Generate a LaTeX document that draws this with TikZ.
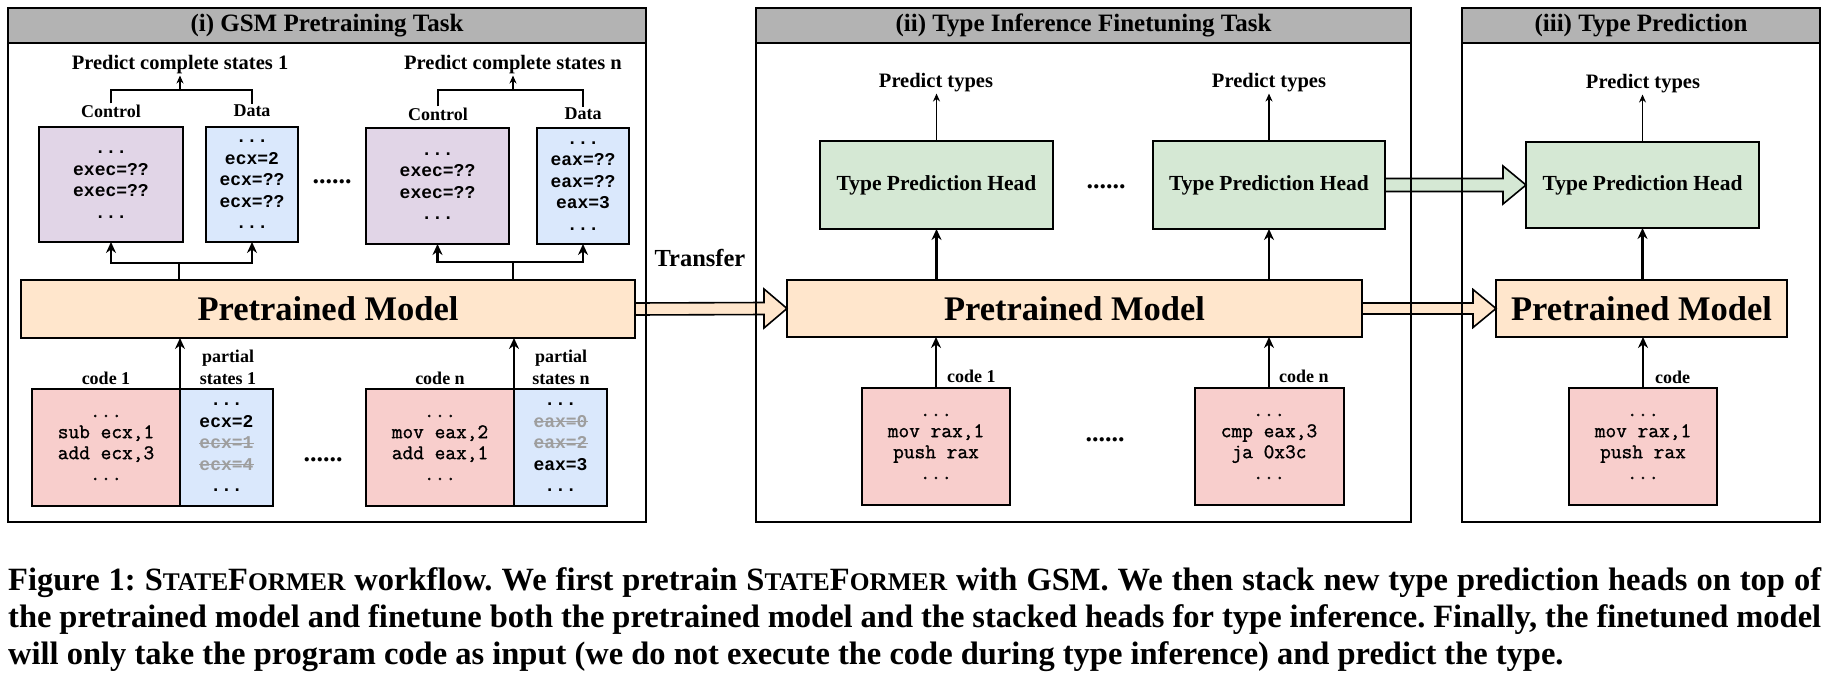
\documentclass[tikz,border=0pt]{standalone}
\usepackage{fontspec}
\setmainfont{Liberation Serif}
\newfontfamily\statefont{Liberation Mono}
\newfontfamily\codefont{Latin Modern Mono}[FakeBold=1.2]
\usetikzlibrary{arrows.meta,calc}
\definecolor{cpeach}{HTML}{FFE6CC}
\definecolor{cgreen}{HTML}{D5E8D4}
\definecolor{cpurple}{HTML}{E1D5E7}
\definecolor{cblue}{HTML}{DAE8FC}
\definecolor{cred}{HTML}{F8CECC}
\definecolor{hdrgray}{HTML}{B3B3B3}
\definecolor{strkgray}{HTML}{9E9E9E}
\newcommand\fsz[2]{\fontsize{#1pt}{#2pt}\selectfont}
\newcommand\strk[1]{\textcolor{strkgray}{\setbox0=\hbox{#1}\rlap{\rule[0.28em]{\wd0}{0.07em}}\box0}}
\newcommand\capsc[1]{{\fsz{25.4}{38}#1}}
\tikzset{
 panel/.style={draw=black, line width=2.5pt, inner sep=0pt, outer sep=0pt},
 header/.style={panel, fill=hdrgray, font=\bfseries\fsz{25}{30}},
 lblA/.style={inner sep=1pt, font=\bfseries\fsz{20.5}{24}},
 lblB/.style={inner sep=1pt, font=\bfseries\fsz{18}{22}, align=center},
 sbox/.style={draw=black, line width=2pt, inner sep=0pt, outer sep=0pt, align=center, font=\statefont\bfseries\fsz{18}{21.5}},
 cbox/.style={draw=black, line width=2pt, inner sep=0pt, outer sep=0pt, align=center, fill=cred, font=\codefont\fsz{20.8}{21}},
 hbox/.style={draw=black, line width=2pt, inner sep=0pt, outer sep=0pt, fill=cgreen, font=\bfseries\fsz{21.5}{25}},
 pmbox/.style={draw=black, line width=2pt, inner sep=0pt, outer sep=0pt, fill=cpeach, font=\bfseries\fsz{34.5}{40}},
 dotsn/.style={inner sep=0pt, font=\bfseries\fsz{26}{30}},
 tline/.style={line width=2.2pt},
 tarr/.style={tline, -{Stealth[length=11pt,width=10pt]}},
 nline/.style={line width=1.2pt},
 narr/.style={nline, -{Stealth[length=8pt,width=7pt]}},
 fat/.style={draw=black, line width=1.6pt, line join=miter},
 capline/.style={anchor=base west, inner sep=0pt, font=\bfseries\fsz{32.5}{38}\frenchspacing},
}
\begin{document}
\begin{tikzpicture}[x=1pt,y=-1pt]
\useasboundingbox (0,0) rectangle (1827,686);

% ---------- Panel (i) contents ----------
\node[lblA] (pc1) at (180,65) {Predict complete states 1};
\node[lblA] (pcn) at (513,65) {Predict complete states n};
\node[lblB] (cl1) at (111,111) {Control};
\node[lblB] (dl1) at (252,111) {Data};
\node[lblB] (cln) at (438,114) {Control};
\node[lblB] (dln) at (583,114) {Data};

\node[sbox, fill=cpurple, minimum width=144pt, minimum height=115pt] (ctl1) at (111,184.5) {...\\exec=??\\exec=??\\...};
\node[sbox, fill=cblue, minimum width=92pt, minimum height=115pt] (dat1) at (252,184.5) {...\\ecx=2\\ecx=??\\ecx=??\\...};
\node[sbox, fill=cpurple, minimum width=143pt, minimum height=116pt] (ctln) at (437.5,186) {...\\exec=??\\exec=??\\...};
\node[sbox, fill=cblue, minimum width=92pt, minimum height=116pt] (datn) at (583,186) {...\\eax=??\\eax=??\\eax=3\\...};
\node[dotsn] (dA) at (332,182) {......};

\node[pmbox, minimum width=614pt, minimum height=58pt] (pm1) at (328,309) {Pretrained Model};

\node[cbox, minimum width=148pt, minimum height=117pt] (code1) at (106,447.5) {...\\sub ecx,1\\add ecx,3\\...};
\node[sbox, fill=cblue, minimum width=93pt, minimum height=117pt] (ps1) at (226.5,447.5) {...\\ecx=2\\\strk{ecx=1}\\\strk{ecx=4}\\...};
\node[cbox, minimum width=148pt, minimum height=117pt] (coden) at (440,447.5) {...\\mov eax,2\\add eax,1\\...};
\node[sbox, fill=cblue, minimum width=93pt, minimum height=117pt] (psn) at (560.5,447.5) {...\\\strk{eax=0}\\\strk{eax=2}\\eax=3\\...};
\node[dotsn] (dB) at (323,460) {......};

\node[lblB] (cd1l) at (106,378) {code 1};
\node[lblB] (ps1l) at (228,367) {partial\\states 1};
\node[lblB] (cdnl) at (440,378) {code n};
\node[lblB] (psnl) at (561,367) {partial\\states n};

% connectors panel (i)
\coordinate (t1) at (180,90);
\coordinate (tn) at (513,90);
\draw[nline] (cl1.north) |- (t1) -| (dl1.north);
\draw[narr] (t1) -- (t1 |- pc1.south);
\draw[nline] (cln.north) |- (tn) -| (dln.north);
\draw[narr] (tn) -- (tn |- pcn.south);

\coordinate (b1) at (179,263);
\coordinate (bn) at (513,262);
\draw[tline] (pm1.north -| b1) -- (b1);
\draw[tarr] (b1) -| (ctl1.south);
\draw[tarr] (b1) -| (dat1.south);
\draw[tline] (pm1.north -| bn) -- (bn);
\draw[tarr] (bn) -| (ctln.south);
\draw[tarr] (bn) -| (datn.south);

\draw[tarr] (code1.north east) -- (code1.north east |- pm1.south);
\draw[tarr] (coden.north east) -- (coden.north east |- pm1.south);

% ---------- Panel (ii) contents ----------
\node[lblA] (pt1) at (936,83) {Predict types};
\node[lblA] (ptn) at (1269,83) {Predict types};
\node[hbox, minimum width=233pt, minimum height=88pt] (head1) at (936.5,185) {Type Prediction Head};
\node[hbox, minimum width=232pt, minimum height=88pt] (headn) at (1269,185) {Type Prediction Head};
\node[dotsn] (dC) at (1106,187) {......};
\node[pmbox, minimum width=575pt, minimum height=57pt] (pm2) at (1074.5,308.5) {Pretrained Model};
\node[cbox, minimum width=148pt, minimum height=117pt] (code21) at (936,446.5) {...\\mov rax,1\\push rax\\...};
\node[cbox, minimum width=149pt, minimum height=117pt] (code2n) at (1269,446.5) {...\\cmp eax,3\\ja 0x3c\\...};
\node[dotsn] (dD) at (1105,440) {......};
\node[lblB, anchor=west] (c21l) at (946,376) {code 1};
\node[lblB, anchor=west] (c2nl) at (1278,376) {code n};

\draw[narr] (head1.north) -- (head1.north |- pt1.south);
\draw[narr] (headn.north) -- (headn.north |- ptn.south);
\draw[tarr] (pm2.north -| head1.south) -- (head1.south);
\draw[tarr] (pm2.north -| headn.south) -- (headn.south);
\draw[tarr] (code21.north) -- (code21.north |- pm2.south);
\draw[tarr] (code2n.north) -- (code2n.north |- pm2.south);

% ---------- Panel (iii) contents ----------
\node[lblA] (pt3) at (1643,84) {Predict types};
\node[hbox, minimum width=233pt, minimum height=86pt] (head3) at (1642.5,185) {Type Prediction Head};
\node[pmbox, minimum width=291pt, minimum height=57pt] (pm3) at (1641.5,308.5) {Pretrained Model};
\node[cbox, minimum width=148pt, minimum height=117pt] (code3) at (1643,446.5) {...\\mov rax,1\\push rax\\...};
\node[lblB, anchor=west] (c3l) at (1654,377) {code};

\draw[narr] (head3.north) -- (head3.north |- pt3.south);
\draw[tarr] (pm3.north -| head3.south) -- (head3.south);
\draw[tarr] (code3.north) -- (code3.north |- pm3.south);

% ---------- fat arrows ----------
\draw[fat, fill=cpeach] ($(pm1.east)+(0,-6)$) -- ($(pm2.west)+(-23,-6)$) -- ($(pm2.west)+(-23,-19.5)$) -- (pm2.west) -- ($(pm2.west)+(-23,19.5)$) -- ($(pm2.west)+(-23,6)$) -- ($(pm1.east)+(0,6)$) -- cycle;
\draw[fat, fill=cgreen] ($(headn.east)+(0,-6.5)$) -- ($(head3.west)+(-23,-6.5)$) -- ($(head3.west)+(-23,-19)$) -- (head3.west) -- ($(head3.west)+(-23,19)$) -- ($(head3.west)+(-23,6.5)$) -- ($(headn.east)+(0,6.5)$) -- cycle;
\draw[fat, fill=cpeach] ($(pm2.east)+(0,-5.5)$) -- ($(pm3.west)+(-23,-5.5)$) -- ($(pm3.west)+(-23,-19)$) -- (pm3.west) -- ($(pm3.west)+(-23,19)$) -- ($(pm3.west)+(-23,5.5)$) -- ($(pm2.east)+(0,5.5)$) -- cycle;
\node[inner sep=0pt, font=\bfseries\fsz{24.5}{28}] (tr) at (700,258) {Transfer};

% ---------- panels ----------
\node[panel, minimum width=638pt, minimum height=514pt] (P1) at (327,265) {};
\node[header, minimum width=638pt, minimum height=35pt] (H1) at (327,25.5) {(i) GSM Pretraining Task};
\node[panel, minimum width=655pt, minimum height=514pt] (P2) at (1083.5,265) {};
\node[header, minimum width=655pt, minimum height=35pt] (H2) at (1083.5,25.5) {(ii) Type Inference Finetuning Task};
\node[panel, minimum width=358pt, minimum height=514pt] (P3) at (1641,265) {};
\node[header, minimum width=358pt, minimum height=35pt] (H3) at (1641,25.5) {(iii) Type Prediction};

% ---------- caption ----------
\node[capline] (cap1) at (8,590) {\makebox[1813pt][s]{Figure 1: S\capsc{TATE}F\capsc{ORMER} workflow. We first pretrain S\capsc{TATE}F\capsc{ORMER} with GSM. We then stack new type prediction heads on top of}};
\node[capline] (cap2) at (8,627) {\makebox[1813pt][s]{the pretrained model and finetune both the pretrained model and the stacked heads for type inference. Finally, the finetuned model}};
\node[capline] (cap3) at (8,664) {will only take the program code as input (we do not execute the code during type inference) and predict the type.};
\end{tikzpicture}
\end{document}
